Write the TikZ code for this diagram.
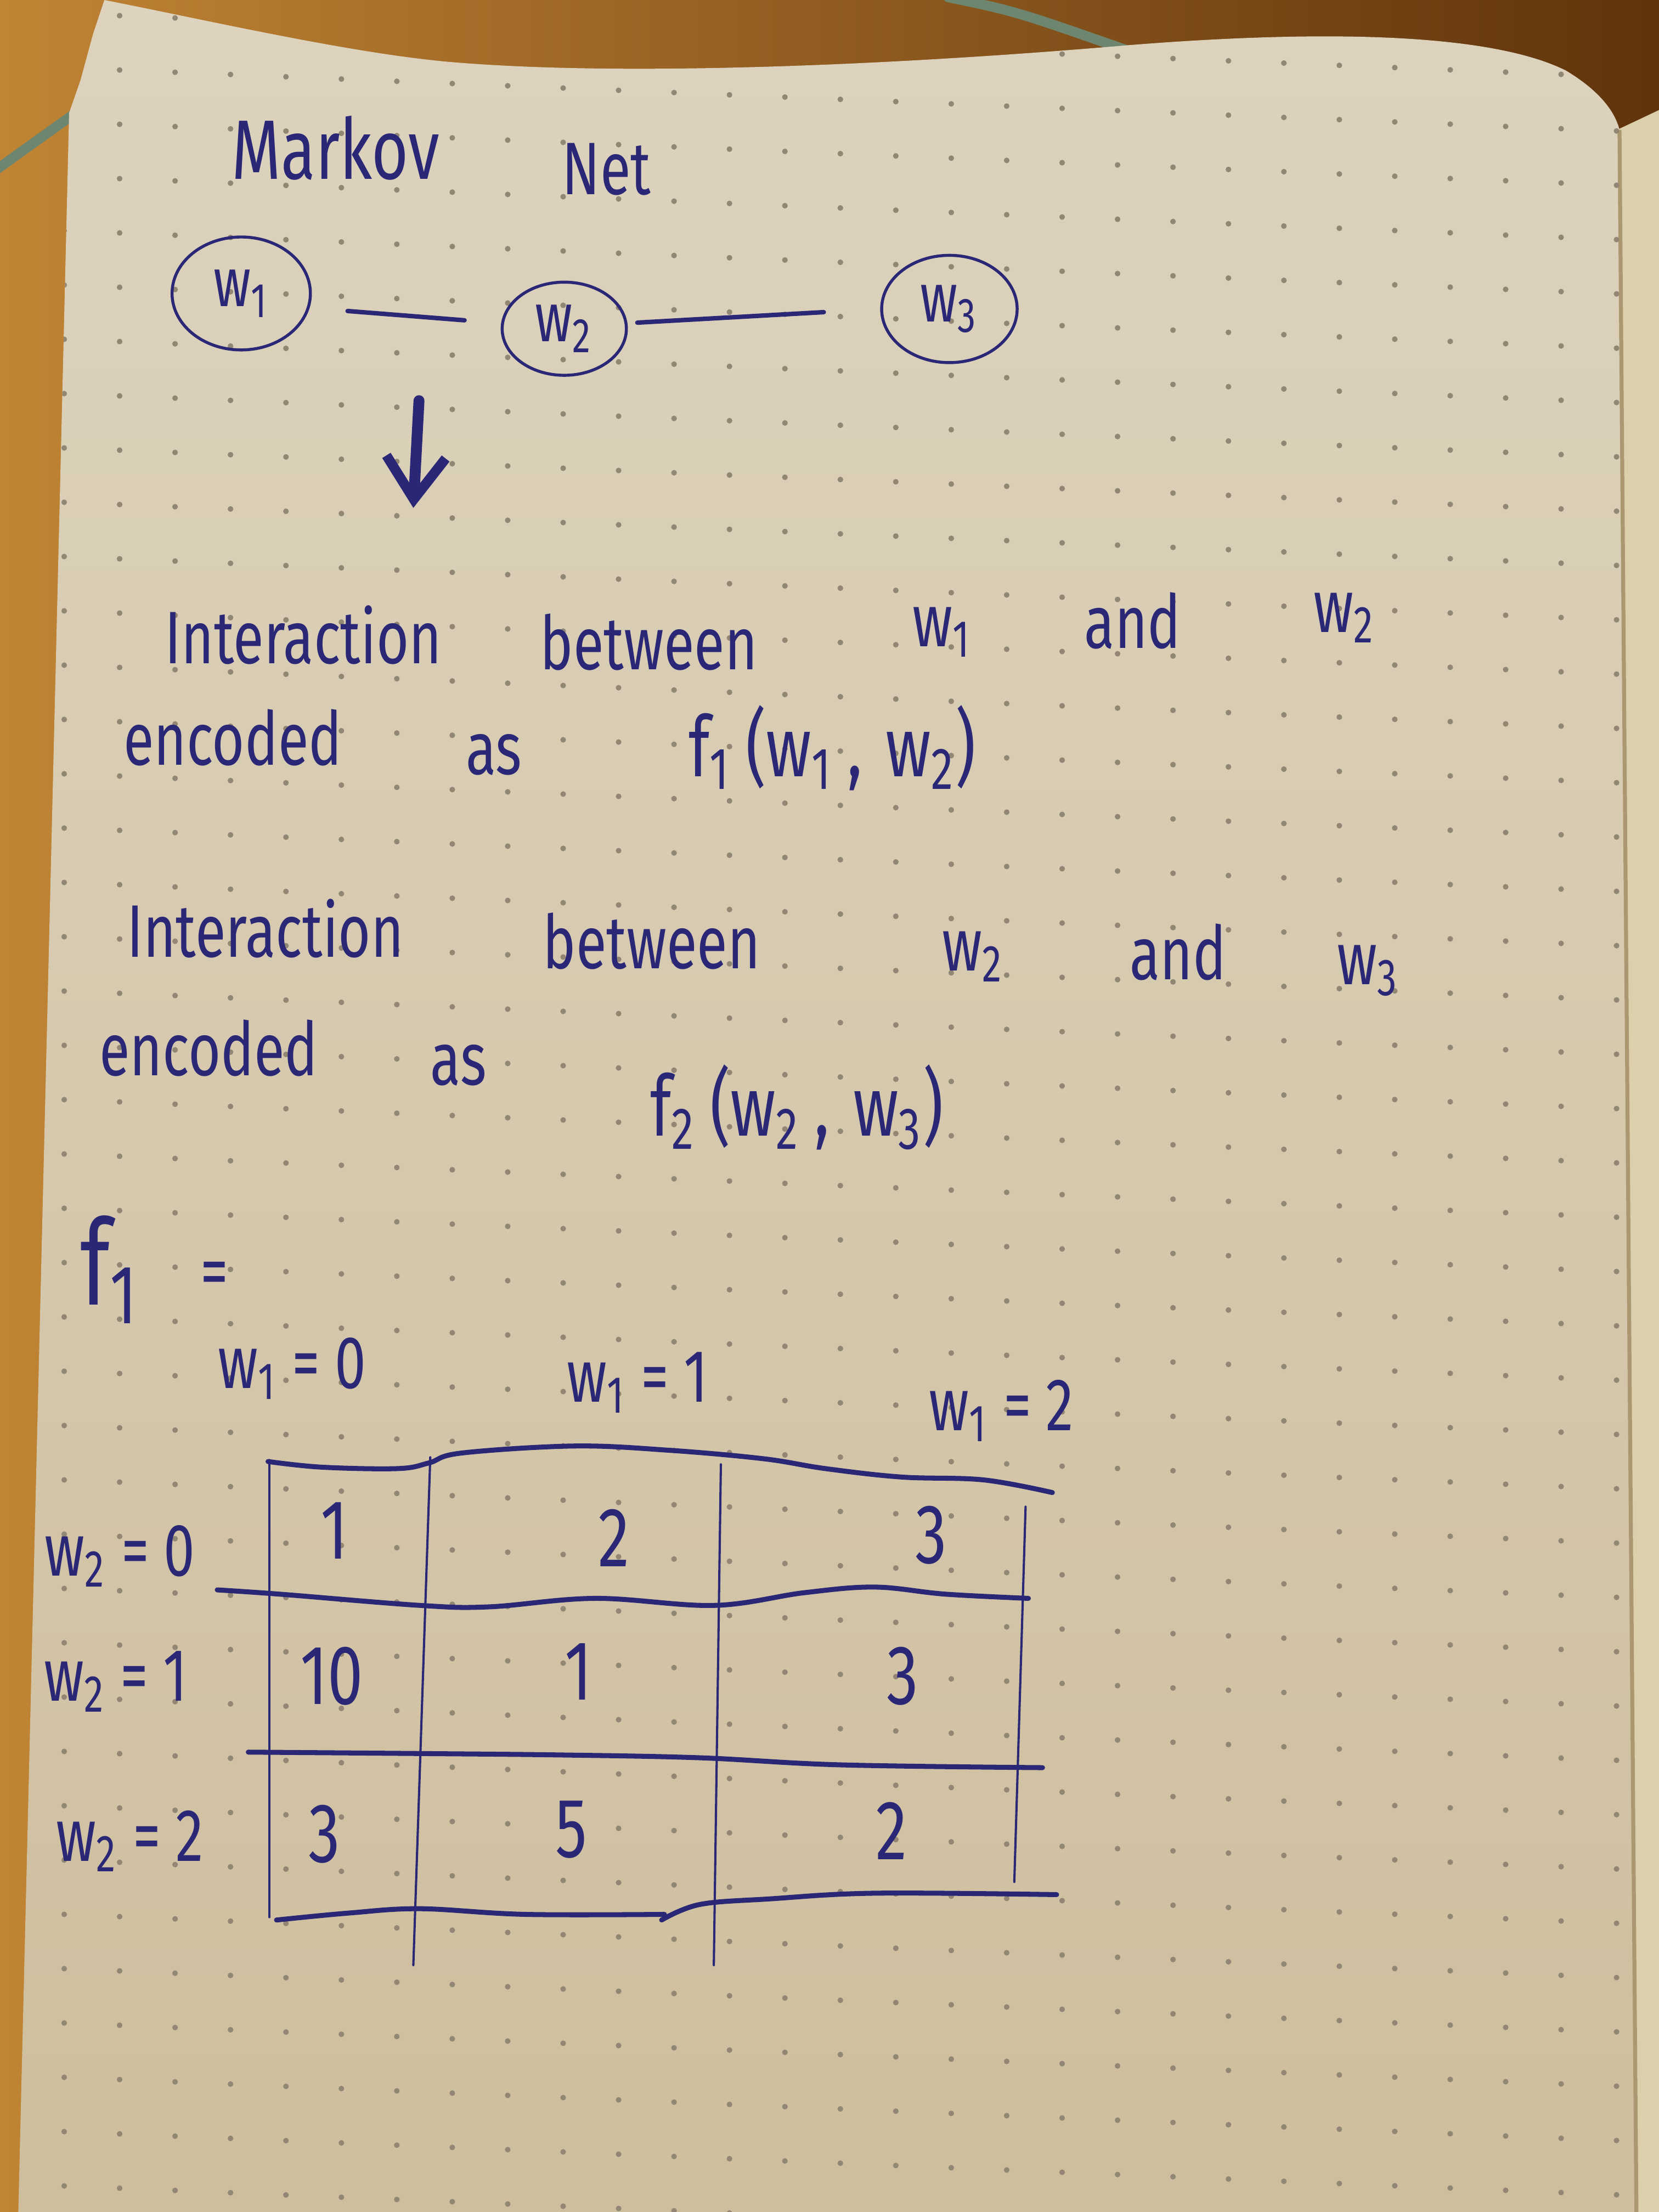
\documentclass[tikz,border=0pt]{standalone}
\usepackage{fontspec}
\setmainfont{Fira Sans}
\newfontfamily\hand[FakeStretch=0.75]{Fira Sans}
\usetikzlibrary{shapes.geometric,arrows.meta}

\definecolor{ink}{RGB}{42,40,118}
\definecolor{paperTop}{RGB}{221,211,190}
\definecolor{paperBot}{RGB}{206,190,157}
\definecolor{woodL}{RGB}{192,132,52}
\definecolor{woodR}{RGB}{96,52,12}
\definecolor{nextpage}{RGB}{220,207,172}
\definecolor{pageedge}{RGB}{172,152,112}
\definecolor{dotgray}{RGB}{145,135,116}
\definecolor{stem}{RGB}{110,134,112}

\newcommand\wv[1]{w\textsubscript{#1}}

\tikzset{
  hw/.style={text=ink, font=\hand\fontsize{15}{17}\selectfont, inner sep=0pt},
  bighw/.style={hw, font=\hand\fontsize{17}{19}\selectfont},
  cell/.style={hw, font=\hand\fontsize{17}{19}\selectfont},
  var/.style={ellipse, draw=ink, line width=0.6pt, inner sep=0pt, text=ink,
    font=\hand\fontsize{14}{16}\selectfont},
  edge/.style={draw=ink, line width=0.9pt, line cap=round},
  rule/.style={draw=ink, line width=1pt, line cap=round, line join=round},
  vrule/.style={draw=ink, line width=0.45pt, line cap=round},
}

% outline of the notebook page
\def\pagepath{(13,1568) -- (49,80) -- (57,57) -- (66,24) -- (74,0)
  .. controls (150,15) and (250,38) .. (320,44)
  .. controls (450,55) and (650,45) .. (800,32)
  .. controls (950,20) and (1060,25) .. (1110,50)
  .. controls (1135,65) and (1145,80) .. (1148,92)
  -- (1160,1568) -- cycle}

\begin{document}
\begin{tikzpicture}[x=0.01cm, y=-0.01cm]
\useasboundingbox (0,0) rectangle (1176,1568);

% table top under the notebook
\shade[left color=woodL, right color=woodR] (0,0) rectangle (1176,1568);
\draw[stem, line width=2pt, line cap=round] (-5,122) .. controls (20,104) .. (62,74);
\draw[stem, line width=2pt, line cap=round] (672,-2) .. controls (720,8) .. (800,36);

% the following page, seen at the right
\fill[nextpage] (1140,95) -- (1176,78) -- (1176,1568) -- (1150,1568) -- cycle;

% the page itself
\path[top color=paperTop, bottom color=paperBot] \pagepath;
\draw[pageedge, line width=0.8pt] (1148,92) -- (1160,1568);

% dot grid
\begin{scope}
  \clip \pagepath;
  \foreach \i in {-1,...,29} {
    \foreach \j in {-23,...,19} {
      \fill[dotgray] ({45.5+39.3*\i}, {856.5+1.6*\i+38.5*\j}) circle[radius=0.2mm];
    }
  }
\end{scope}

% title
\node[bighw] (markov) at (238,105) {Markov};
\node[hw] (net) at (430,120) {Net};

% Markov net
\node[var, minimum width=0.98cm, minimum height=0.80cm] (w1) at (171,208) {\wv1};
\node[var, minimum width=0.88cm, minimum height=0.66cm] (w2) at (400,233) {\wv2};
\node[var, minimum width=0.96cm, minimum height=0.76cm] (w3) at (673,219) {\wv3};
\draw[edge, shorten <=0.27cm, shorten >=0.26cm] (w1.-12) -- (w2.175);
\draw[edge, shorten <=0.07cm, shorten >=0.40cm] (w2.5) -- (w3.180);

% arrow down
\coordinate (atop) at (297,284);
\coordinate (abot) at (293,360);
\draw[ink, line width=2.2pt, line cap=round,
  -{Straight Barb[length=0.3cm, width=0.42cm, line width=2pt]}] (atop) -- (abot);

% first factor
\node[hw] (int1) at (215,450) {Interaction};
\node[hw] (btw1) at (460,455) {between};
\node[hw] (x1) at (668,448) {\wv1};
\node[hw] (and1) at (803,440) {and};
\node[hw] (y1) at (953,438) {\wv2};
\node[hw] (enc1) at (165,523) {encoded};
\node[hw] (as1) at (350,535) {as};
\node[bighw] (fa) at (590,530) {f\textsubscript{1}\,(\wv1\,,\;\wv2)};

% second factor
\node[hw] (int2) at (188,658) {Interaction};
\node[hw] (btw2) at (462,667) {between};
\node[hw] (x2) at (690,678) {\wv2};
\node[hw] (and2) at (835,675) {and};
\node[hw] (y2) at (970,688) {\wv3};
\node[hw] (enc2) at (148,743) {encoded};
\node[hw] (as2) at (325,755) {as};
\node[bighw] (fb) at (565,785) {f\textsubscript{2}\,(\wv2\,,\;\wv3)};

% factor table
\node[hw, font=\hand\fontsize{24}{26}\selectfont] (f1) at (78,900) {f\textsubscript{1}};
\node[hw] (eq) at (152,907) {=};

\node[hw] (c0) at (207,970) {\wv1 = 0};
\node[hw] (c1) at (452,980) {\wv1 = 1};
\node[hw] (c2) at (710,1000) {\wv1 = 2};
\node[hw] (r0) at (85,1103) {\wv2 = 0};
\node[hw] (r1) at (82,1192) {\wv2 = 1};
\node[hw] (r2) at (92,1305) {\wv2 = 2};

\node[cell] (v00) at (237,1085) {1};
\node[cell] (v01) at (435,1090) {2};
\node[cell] (v02) at (660,1088) {3};
\node[cell] (v10) at (235,1188) {10};
\node[cell] (v11) at (410,1185) {1};
\node[cell] (v12) at (640,1188) {3};
\node[cell] (v20) at (230,1300) {3};
\node[cell] (v21) at (405,1297) {5};
\node[cell] (v22) at (632,1298) {2};

% table rules
\draw[rule] plot[smooth, tension=0.6] coordinates {(190,1036) (228,1040) (282,1041) (304,1037) (327,1030) (407,1025) (474,1028) (541,1034) (585,1041) (639,1047) (697,1049) (746,1058)};
\draw[rule] plot[smooth, tension=0.6] coordinates {(154,1127) (198,1130) (298,1138) (347,1139) (422,1133) (506,1138) (570,1129) (620,1125) (670,1130) (729,1133)};
\draw[rule] plot[smooth, tension=0.6] coordinates {(176,1242) (298,1243) (397,1244) (496,1246) (595,1251) (739,1253)};
\draw[rule] plot[smooth, tension=0.6] coordinates {(196,1361) (248,1356) (298,1353) (372,1357) (471,1357)};
\draw[rule] plot[smooth, tension=0.6] coordinates {(469,1361) (496,1350) (546,1346) (620,1342) (749,1343)};
\draw[vrule] (191,1035) -- (191,1359);
\draw[vrule] (305,1033) -- (293,1393);
\draw[vrule] (511,1038) -- (506,1393);
\draw[vrule] (727,1068) -- (719,1334);
\end{tikzpicture}
\end{document}
